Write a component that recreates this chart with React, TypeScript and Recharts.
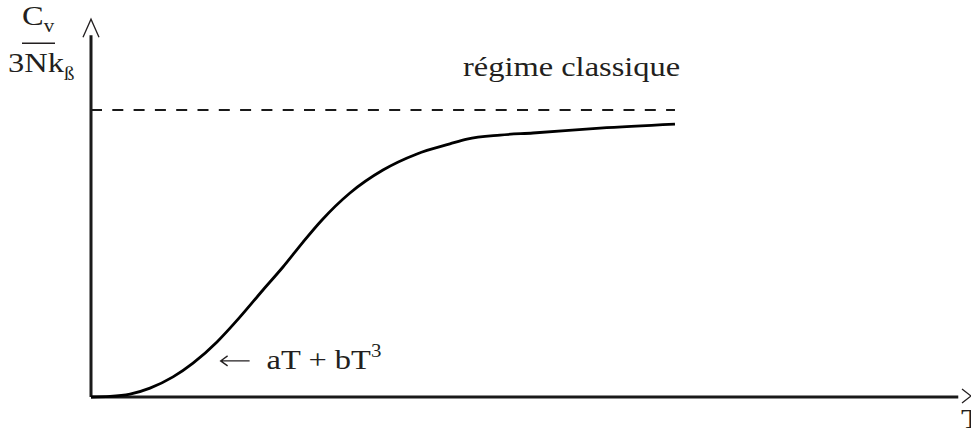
import { LineChart, Line, XAxis, YAxis, ReferenceLine, ReferenceDot } from "recharts";

// temperature (arbitrary units) and reduced heat capacity Cv / 3Nkβ
const temperature = [0, 2.19, 4.49, 6.79, 9.44, 11.74, 14.5, 17.15, 19.79, 22.09, 24.4, 26.58, 29.8, 33.6, 37.51, 41.3, 43.27, 47.07, 50.86, 58.57, 67.2];
const heatCapacity = [0, 0.002, 0.01, 0.031, 0.07, 0.118, 0.192, 0.279, 0.373, 0.453, 0.54, 0.617, 0.711, 0.791, 0.847, 0.882, 0.899, 0.913, 0.92, 0.937, 0.951];
const classicalLimit = 1;
const classicalEnd = 67.2;

const xMax = 100;
const yMax = 1.279;
const yAxisTop = 1.261;

const data = temperature.map((t, i) => ({ T: t, Cv: heatCapacity[i] }));

const FONT = "'Liberation Serif', 'Times New Roman', serif";
const INK = "#231f20";

function ScaledText({ x, y, size = 28, children }: { x: number; y: number; size?: number; children: any }) {
    return (
        <text transform={`translate(${x},${y}) scale(1.16,1)`} fontFamily={FONT} fontSize={size} fill={INK}>
            {children}
        </text>
    );
}

const YArrow = ({ cx, cy }: any) => (
    <g>
        <path d={`M${cx - 8},${cy + 2} L${cx},${cy - 16} L${cx + 8},${cy + 2}`} fill="none" stroke={INK} strokeWidth={1.3} />
        <ScaledText x={cx - 69} y={cy - 10}>
            C<tspan fontSize={18} dy={7}>v</tspan>
        </ScaledText>
        <line x1={cx - 69} x2={cx - 36} y1={cy + 8} y2={cy + 8} stroke={INK} strokeWidth={1.5} />
        <ScaledText x={cx - 83} y={cy + 37}>
            3Nk<tspan fontSize={18} dy={8}>ß</tspan>
        </ScaledText>
    </g>
);

const XArrow = ({ cx, cy }: any) => (
    <g>
        <path d={`M${cx + 2},${cy - 8} L${cx + 11},${cy - 1} L${cx + 2},${cy + 6}`} fill="none" stroke={INK} strokeWidth={1.3} />
        <ScaledText x={cx + 1} y={cy + 31}>T</ScaledText>
    </g>
);

const RegimeLabel = ({ cx, cy }: any) => <ScaledText x={cx} y={cy}>régime classique</ScaledText>;

const LowTLabel = ({ cx, cy }: any) => (
    <g>
        <path
            d={`M${cx + 30},${cy - 8} L${cx + 1},${cy - 8} M${cx + 8},${cy - 13} L${cx + 1},${cy - 8} L${cx + 8},${cy - 3}`}
            fill="none"
            stroke={INK}
            strokeWidth={1.3}
        />
        <ScaledText x={cx + 47} y={cy}>
            aT + bT<tspan fontSize={18} dy={-12}>3</tspan>
        </ScaledText>
    </g>
);

export default function App() {
    return (
        <div style={{ position: "absolute", left: 0, top: 0, background: "#fff" }}>
            <LineChart width={971} height={436} data={data} margin={{ top: 30, right: 11, bottom: 39, left: 91 }}>
                <XAxis type="number" dataKey="T" domain={[0, xMax]} hide />
                <YAxis type="number" domain={[0, yMax]} hide />

                <ReferenceLine segment={[{ x: 0, y: 0 }, { x: 99.8, y: 0 }]} stroke="#1a1a1a" strokeWidth={3} ifOverflow="visible" />
                <ReferenceLine segment={[{ x: 0, y: 0 }, { x: 0, y: yAxisTop }]} stroke="#1a1a1a" strokeWidth={3} ifOverflow="visible" />
                <ReferenceLine
                    segment={[{ x: 0, y: classicalLimit }, { x: classicalEnd, y: classicalLimit }]}
                    stroke="#1a1a1a"
                    strokeWidth={2}
                    strokeDasharray="11 10.3"
                    ifOverflow="visible"
                />

                <Line
                    dataKey="Cv"
                    type="monotone"
                    stroke="#000"
                    strokeWidth={2.8}
                    dot={false}
                    isAnimationActive={false}
                />

                <ReferenceDot x={0} y={yAxisTop} r={0} ifOverflow="visible" shape={YArrow} />
                <ReferenceDot x={xMax} y={0} r={0} ifOverflow="visible" shape={XArrow} />
                <ReferenceDot x={42.8} y={1.118} r={0} ifOverflow="visible" shape={RegimeLabel} />
                <ReferenceDot x={14.8} y={0.098} r={0} ifOverflow="visible" shape={LowTLabel} />
            </LineChart>
        </div>
    );
}
